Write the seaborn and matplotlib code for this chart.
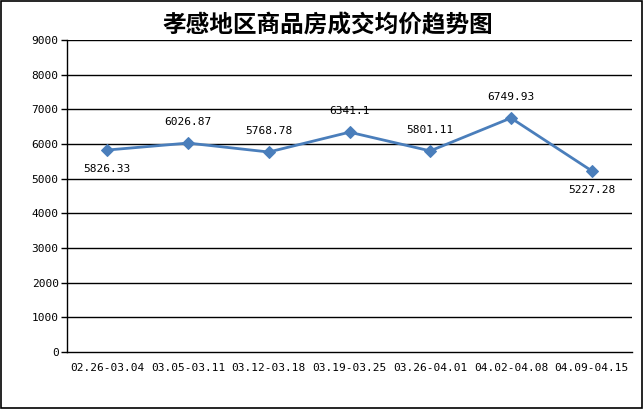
import matplotlib
matplotlib.use("Agg")
import matplotlib.pyplot as plt
import seaborn as sns
import pandas as pd
import numpy as np

categories = ["02.26-03.04", "03.05-03.11", "03.12-03.18", "03.19-03.25",
              "03.26-04.01", "04.02-04.08", "04.09-04.15"]
prices = [5826.33, 6026.87, 5768.78, 6341.1, 5801.11, 6749.93, 5227.28]
label_texts = ["5826.33", "6026.87", "5768.78", "6341.1", "5801.11", "6749.93", "5227.28"]
label_above = [False, True, True, True, True, True, False]
title = "孝感地区商品房成交均价趋势图"

sns.set_style("white")
plt.rcParams['font.family'] = ['Noto Sans CJK SC', 'DejaVu Sans']
plt.rcParams['text.color'] = 'black'
plt.rcParams['xtick.color'] = 'black'
plt.rcParams['ytick.color'] = 'black'

df = pd.DataFrame({"pos": np.arange(len(categories)), "price": prices})

fig = plt.figure(figsize=(6.43, 4.09), dpi=100)
ax = fig.add_axes([67/643, 1-352/409, (632-67)/643, (352-40)/409])

for y in range(1000, 9001, 1000):
    ax.axhline(y, color="black", lw=1, zorder=1)

sns.lineplot(data=df, x="pos", y="price", ax=ax, color="#4a7ebb", lw=2,
             marker="D", markersize=6, markeredgecolor="#4a7ebb", zorder=3)

for i, (v, t, up) in enumerate(zip(prices, label_texts, label_above)):
    off = 15 if up else -14
    ax.annotate(t, (i, v), xytext=(0, off), textcoords="offset points",
                ha="center", va="center", fontsize=8, family="DejaVu Sans Mono",
                color="black")

ax.set_xlim(-0.5, len(categories) - 0.5)
ax.set_ylim(0, 9000)
ax.set_yticks(range(0, 9001, 1000))
ax.set_yticklabels([str(v) for v in range(0, 9001, 1000)], fontsize=8, family="DejaVu Sans Mono")
ax.set_xticks(np.arange(len(categories)))
ax.set_xticklabels(categories, fontsize=8, family="DejaVu Sans Mono")
ax.set_xticks(np.arange(-0.5, len(categories)), minor=True)
ax.tick_params(axis="x", which="major", length=0, pad=8)
ax.tick_params(axis="x", which="minor", length=5, direction="out", color="black", width=1)
ax.tick_params(axis="y", length=4, direction="out", color="black", width=1, left=True, pad=2)
ax.set_xlabel("")
ax.set_ylabel("")
for s in ["top", "right"]:
    ax.spines[s].set_visible(False)
for s in ["left", "bottom"]:
    ax.spines[s].set_color("black")
    ax.spines[s].set_linewidth(1)

fig.text(328/643, 1-25/409, title, ha="center", va="center", fontsize=17,
         fontweight="bold", color="black")

border = plt.Rectangle((0.001, 0.002), 0.997, 0.996, transform=fig.transFigure,
                       fill=False, edgecolor="black", lw=1.2)
fig.patches.append(border)

fig.savefig("out.png", dpi=100)
